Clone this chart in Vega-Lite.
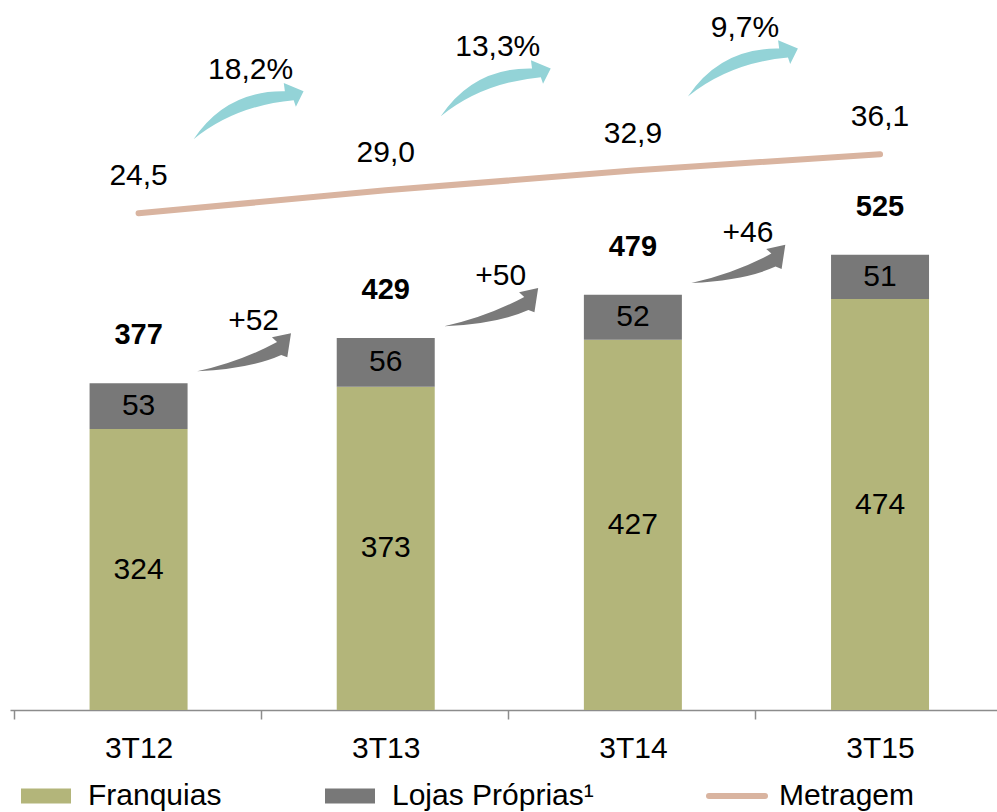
{
  "$schema": "https://vega.github.io/schema/vega-lite/v6.json",
  "width": 987,
  "height": 710,
  "autosize": {"type": "none"},
  "padding": {"left": 10, "top": 0, "right": 0, "bottom": 102},
  "config": {
    "view": {"stroke": null},
    "font": "Liberation Sans",
    "text": {"font": "Liberation Sans", "fontSize": 30, "color": "#000000"}
  },
  "datasets": {
    "bars": [
      {"cat": "3T12", "i": 0, "serie": "Franquias", "value": 324},
      {"cat": "3T12", "i": 0, "serie": "Lojas Próprias", "value": 53},
      {"cat": "3T13", "i": 1, "serie": "Franquias", "value": 373},
      {"cat": "3T13", "i": 1, "serie": "Lojas Próprias", "value": 56},
      {"cat": "3T14", "i": 2, "serie": "Franquias", "value": 427},
      {"cat": "3T14", "i": 2, "serie": "Lojas Próprias", "value": 52},
      {"cat": "3T15", "i": 3, "serie": "Franquias", "value": 474},
      {"cat": "3T15", "i": 3, "serie": "Lojas Próprias", "value": 51}
    ],
    "cats": [
      {"cat": "3T12", "i": 0, "total": 377, "metragem": 24.5, "metragemLabel": "24,5", "diff": "+52", "growth": "18,2%"},
      {"cat": "3T13", "i": 1, "total": 429, "metragem": 29.0, "metragemLabel": "29,0", "diff": "+50", "growth": "13,3%"},
      {"cat": "3T14", "i": 2, "total": 479, "metragem": 32.9, "metragemLabel": "32,9", "diff": "+46", "growth": "9,7%"},
      {"cat": "3T15", "i": 3, "total": 525, "metragem": 36.1, "metragemLabel": "36,1"}
    ]
  },
  "encoding": {
    "x": {
      "field": "i",
      "type": "quantitative",
      "scale": {"domain": [-0.5, 3.453], "nice": false, "zero": false},
      "axis": {
        "title": null,
        "values": [0, 1, 2, 3],
        "labelExpr": "['3T12','3T13','3T14','3T15'][datum.value]",
        "tickOffset": -124.85,
        "labelOffset": 124.85,
        "grid": false,
        "domainColor": "#8c8c8c",
        "domainWidth": 1.5,
        "tickColor": "#8c8c8c",
        "tickWidth": 1.5,
        "tickSize": 9,
        "labelPadding": 14,
        "labelFont": "Liberation Sans",
        "labelFontSize": 30,
        "labelColor": "#000000",
        "labelFlush": false,
        "labelOverlap": false
      }
    }
  },
  "layer": [
    {
      "layer": [
        {
          "data": {"name": "bars"},
          "mark": {"type": "bar", "size": 98},
          "encoding": {
            "y": {"field": "value", "type": "quantitative", "stack": "zero", "scale": {"domain": [0, 819], "nice": false}, "axis": null},
            "color": {
              "field": "serie",
              "type": "nominal",
              "scale": {"domain": ["Franquias", "Lojas Próprias", "Metragem"], "range": ["#b3b57a", "#787878", "#d9b4a0"]},
              "legend": {
                "title": null,
                "orient": "none",
                "direction": "horizontal",
                "legendX": 21,
                "legendY": 781,
                "columnPadding": 103,
                "labelFont": "Liberation Sans",
                "labelFontSize": 30,
                "labelColor": "#000000",
                "labelOffset": 27,
                "labelLimit": 500,
                "labelExpr": "datum.label === 'Lojas Próprias' ? 'Lojas Próprias¹' : datum.label",
                "symbolSize": 2500,
                "symbolType": "M-1,-0.3H1V0.3H-1Z",
                "encode": {
                  "symbols": {
                    "update": {
                      "shape": {"signal": "datum.value === 'Metragem' ? 'M-1.12,0H1.12' : 'M-1,-0.3H1V0.3H-1Z'"},
                      "fill": {"signal": "datum.value === 'Metragem' ? 'transparent' : scale('color', datum.value)"},
                      "stroke": {"signal": "scale('color', datum.value)"},
                      "strokeWidth": {"signal": "datum.value === 'Metragem' ? 6 : 0"},
                      "strokeCap": {"value": "round"},
                      "opacity": {"value": 1},
                      "fillOpacity": {"value": 1},
                      "strokeOpacity": {"value": 1}
                    }
                  }
                }
              }
            },
            "order": {"field": "serie", "sort": "ascending"}
          }
        },
        {
          "data": {"name": "bars"},
          "mark": {"type": "text", "baseline": "middle", "align": "center"},
          "encoding": {
            "y": {"field": "value", "type": "quantitative", "stack": "zero", "bandPosition": 0.5, "scale": {"domain": [0, 819], "nice": false}, "axis": null},
            "text": {"field": "value", "type": "quantitative"},
            "order": {"field": "serie", "sort": "ascending"}
          }
        },
        {
          "data": {"name": "cats"},
          "mark": {"type": "text", "baseline": "middle", "align": "center", "dy": -48, "fontWeight": "bold", "fontSize": 29},
          "encoding": {
            "y": {"field": "total", "type": "quantitative", "scale": {"domain": [0, 819], "nice": false}, "axis": null},
            "text": {"field": "total", "type": "quantitative"}
          }
        },
        {
          "data": {"name": "cats"},
          "transform": [{"filter": "isValid(datum.diff)"}],
          "mark": {
            "type": "point",
            "shape": "M-1,0.39 Q0.14,0.34 0.81,0.04 L0.94,0.09 L1.02,-0.43 L0.61,-0.34 L0.72,-0.24 Q-0.08,0.19 -1,0.39 Z",
            "filled": true,
            "size": 8649,
            "color": "#7a7a7a",
            "opacity": 1,
            "strokeWidth": 0,
            "xOffset": 105,
            "yOffset": -30
          },
          "encoding": {
            "y": {"field": "total", "type": "quantitative", "scale": {"domain": [0, 819], "nice": false}, "axis": null}
          }
        },
        {
          "data": {"name": "cats"},
          "transform": [{"filter": "isValid(datum.diff)"}],
          "mark": {"type": "text", "baseline": "middle", "align": "center", "dx": 115, "dy": -62},
          "encoding": {
            "y": {"field": "total", "type": "quantitative", "scale": {"domain": [0, 819], "nice": false}, "axis": null},
            "text": {"field": "diff", "type": "nominal"}
          }
        }
      ]
    },
    {
      "layer": [
        {
          "data": {"name": "cats"},
          "mark": {"type": "line", "strokeWidth": 6, "strokeCap": "round"},
          "encoding": {
            "y": {"field": "metragem", "type": "quantitative", "scale": {"domain": [-73.1, 66.4], "nice": false, "zero": false}, "axis": null},
            "color": {"datum": "Metragem", "type": "nominal"}
          }
        },
        {
          "data": {"name": "cats"},
          "mark": {"type": "text", "baseline": "middle", "align": "center", "dy": -37},
          "encoding": {
            "y": {"field": "metragem", "type": "quantitative", "scale": {"domain": [-73.1, 66.4], "nice": false, "zero": false}, "axis": null},
            "text": {"field": "metragemLabel", "type": "nominal"}
          }
        },
        {
          "data": {"name": "cats"},
          "transform": [{"filter": "isValid(datum.growth)"}],
          "mark": {
            "type": "point",
            "shape": "M-1,0.49 Q-0.25,-0.12 0.82,-0.22 L0.86,-0.1 L1,-0.38 L0.64,-0.53 L0.66,-0.38 Q-0.4,-0.4 -1,0.49 Z",
            "filled": true,
            "size": 12100,
            "color": "#93d3d7",
            "opacity": 1,
            "strokeWidth": 0,
            "xOffset": 110,
            "yOffset": -101
          },
          "encoding": {
            "y": {"field": "metragem", "type": "quantitative", "scale": {"domain": [-73.1, 66.4], "nice": false, "zero": false}, "axis": null}
          }
        },
        {
          "data": {"name": "cats"},
          "transform": [{"filter": "isValid(datum.growth)"}],
          "mark": {"type": "text", "baseline": "middle", "align": "center", "dx": 112, "dy": -143},
          "encoding": {
            "y": {"field": "metragem", "type": "quantitative", "scale": {"domain": [-73.1, 66.4], "nice": false, "zero": false}, "axis": null},
            "text": {"field": "growth", "type": "nominal"}
          }
        }
      ]
    }
  ],
  "resolve": {"scale": {"y": "independent"}}
}
